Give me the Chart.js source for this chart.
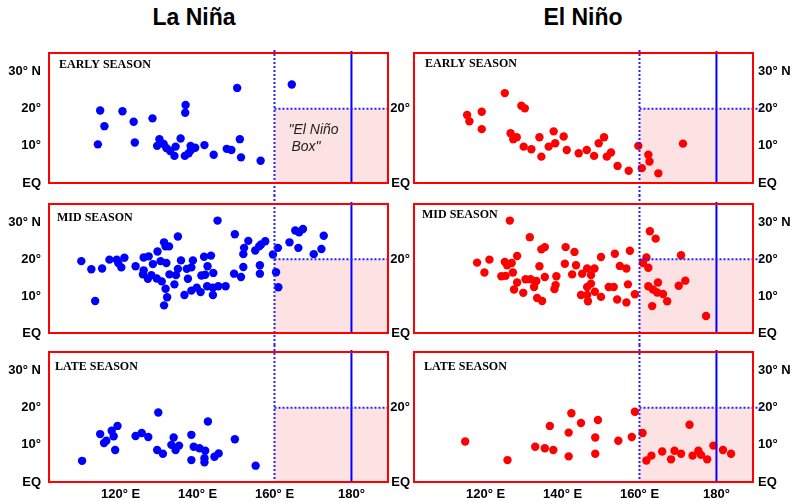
<!DOCTYPE html>
<html>
<head>
<meta charset="utf-8">
<script src="https://cdn.jsdelivr.net/npm/chart.js@4.4.1/dist/chart.umd.min.js"></script>
<style>
  html, body { margin: 0; padding: 0; background: #fff; }
  #fig { position: relative; width: 801px; height: 501px; overflow: hidden; background: #fff; }
  #fig canvas { position: absolute; }
  .title { position: absolute; top: 4px; transform: translateX(-50%); white-space: nowrap;
           font: bold 23px "Liberation Sans", Arial, sans-serif; color: #000; }
</style>
</head>
<body>
<div id="fig">
  <div class="title" style="left:194px">La Niña</div>
  <div class="title" style="left:583px">El Niño</div>
  <canvas id="ln0" width="400" height="155" style="left:0;top:40px"></canvas>
  <canvas id="ln1" width="400" height="150" style="left:0;top:195px"></canvas>
  <canvas id="ln2" width="400" height="156" style="left:0;top:345px"></canvas>
  <canvas id="en0" width="411" height="155" style="left:390px;top:40px"></canvas>
  <canvas id="en1" width="411" height="150" style="left:390px;top:195px"></canvas>
  <canvas id="en2" width="411" height="156" style="left:390px;top:345px"></canvas>
</div>
<script>
// Axis ticks and labels
const latTicks = [0, 10, 20, 30];
const latLabels = ['EQ', '10°', '20°', '30° N'];
const innerLatTicks = [0, 20];
const innerLatLabels = ['EQ', '20°'];
const lonTicks = [120, 140, 160, 180];
const lonLabels = ['120° E', '140° E', '160° E', '180°'];
const seasonLabels = ['EARLY SEASON', 'MID SEASON', 'LATE SEASON'];

// Map extent (degrees) and the "El Niño box" edges
const lonRange = [101.4, 189.5];
const latRange = [0, 35];
const ninoWest = 160;
const dateline = 180;
const ninoNorth = 20;

// Formation points [longitude °E, latitude °N]
const laNinaEarly = [
  [150.3,25.6],[164.5,26.5],[114.7,19.5],[120.5,19.3],[136.9,21.0],[136.8,18.9],[115.8,15.3],
  [123.4,16.5],[128.3,17.4],[114.1,10.4],[123.7,10.9],[130.1,11.8],[129.5,10.0],[131.2,10.5],
  [131.9,9.4],[132.9,8.6],[134.0,7.3],[134.3,9.8],[135.6,12.0],[136.7,7.3],[137.7,8.0],
  [138.2,10.0],[139.4,9.5],[138.3,8.9],[141.8,10.2],[144.2,7.6],[147.6,9.2],[148.8,8.9],
  [151.0,11.8],[151.3,6.9],[156.4,6.0]
];
const laNinaMid = [
  [109.8,19.5],[112.4,17.3],[115.2,17.5],[113.4,8.7],[117.1,19.9],[119.0,19.9],[119.4,19.0],
  [120.2,17.8],[121.0,20.4],[123.9,18.1],[126.0,20.5],[127.3,20.8],[126.0,17.0],[125.8,15.9],
  [127.1,14.7],[128.0,15.7],[128.4,18.7],[129.6,22.1],[129.4,14.8],[130.4,19.5],[130.7,14.0],
  [131.3,24.6],[131.7,23.5],[132.6,23.5],[131.9,19.0],[131.7,12.0],[132.1,9.7],[131.3,7.5],
  [132.7,15.9],[134.0,13.2],[134.4,15.7],[134.9,17.4],[134.9,26.2],[135.7,19.7],[136.6,10.3],
  [137.5,14.7],[137.2,17.4],[138.4,17.8],[138.8,19.7],[138.4,11.5],[139.8,12.3],[140.8,11.1],
  [141.0,15.6],[141.7,20.7],[142.0,15.8],[142.6,18.1],[143.5,21.0],[144.1,16.3],[142.5,12.7],
  [144.0,10.3],[144.0,12.3],[145.4,12.7],[147.3,12.7],[145.2,30.5],[149.5,16.1],[149.7,26.8],
  [151.3,15.2],[151.9,21.4],[152.1,23.1],[151.9,17.9],[153.2,25.0],[155.0,22.4],[156.0,23.5],
  [156.5,24.0],[157.6,24.9],[156.2,18.4],[156.2,16.1],[159.6,21.3],[160.9,23.1],[160.4,16.5],
  [161.0,12.4],[163.9,24.6],[165.4,27.8],[166.4,27.3],[167.4,28.2],[166.2,23.1],[170.2,21.4],
  [172.2,22.8],[172.8,26.4]
];
const laNinaLate = [
  [110.0,5.7],[114.7,12.9],[115.7,10.5],[116.3,11.1],[117.7,13.8],[118.2,12.3],[119.2,15.1],
  [118.6,8.6],[123.9,12.4],[125.5,13.2],[127.2,12.1],[129.8,18.7],[129.5,8.6],[131.0,7.6],
  [133.8,12.0],[133.2,10.0],[134.3,8.6],[135.2,9.8],[138.4,12.7],[138.4,5.9],[139.0,9.5],
  [140.5,9.1],[142.0,8.4],[141.8,6.4],[141.8,5.3],[142.7,16.3],[144.4,6.8],[145.5,7.7],
  [149.7,11.5],[155.1,4.4]
];
const elNinoEarly = [
  [115.2,18.3],[115.8,16.6],[119.0,19.2],[119.0,14.5],[125.0,24.2],[129.3,20.8],[130.2,20.1],
  [126.5,13.4],[127.2,11.8],[128.1,12.3],[129.9,9.8],[131.9,9.1],[134.0,12.3],[134.5,7.1],
  [136.4,9.8],[137.7,13.9],[138.1,10.7],[140.3,12.5],[141.1,8.9],[144.2,8.0],[146.3,8.9],
  [148.2,7.3],[149.4,10.7],[150.8,12.3],[151.5,7.1],[152.6,8.2],[154.3,4.6],[157.2,3.3],
  [159.7,10.0],[160.6,4.0],[162.3,7.6],[162.6,5.8],[164.9,2.6],[171.3,10.6]
];
const elNinoMid = [
  [126.3,30.5],[131.5,26.0],[134.5,22.7],[135.4,23.3],[140.8,23.3],[143.1,22.0],[117.8,19.1],
  [121.0,19.9],[119.7,16.4],[125.0,19.3],[125.6,18.4],[126.8,19.0],[128.2,20.9],[124.1,15.4],
  [125.2,15.5],[127.1,16.4],[128.2,13.7],[127.4,11.8],[129.8,10.9],[130.4,14.6],[131.7,14.6],
  [133.2,14.1],[132.6,12.5],[133.4,9.5],[134.7,8.7],[134.0,18.1],[135.4,15.2],[138.2,13.0],
  [137.9,11.9],[138.4,15.4],[140.6,18.8],[142.5,15.9],[143.5,18.4],[145.1,16.1],[146.4,17.5],
  [148.3,17.5],[147.4,15.7],[146.4,12.5],[147.4,13.4],[148.4,11.2],[144.8,10.3],[146.4,10.3],
  [146.6,8.6],[150.0,9.8],[150.0,20.6],[152.0,12.5],[153.3,12.5],[153.6,21.5],[154.9,18.2],
  [156.6,17.5],[157.5,22.3],[157.0,13.2],[154.2,9.1],[156.6,8.3],[158.8,10.5],[160.9,19.0],
  [161.8,20.5],[162.3,17.7],[162.7,27.6],[164.2,25.6],[162.3,12.7],[163.5,11.8],[164.6,11.0],
  [164.8,13.7],[166.1,10.6],[167.2,8.6],[163.3,7.3],[170.8,21.1],[170.2,12.8],[171.9,14.2],
  [177.3,4.6]
];
const elNinoLate = [
  [114.7,10.9],[125.7,5.9],[132.9,9.5],[135.4,9.1],[137.6,8.6],[136.7,15.1],[141.6,13.3],
  [141.6,6.9],[142.3,18.5],[144.8,15.9],[148.5,12.0],[148.5,7.6],[149.2,16.7],[154.5,11.1],
  [158.0,12.1],[158.8,18.9],[160.8,13.2],[161.8,5.8],[163.1,7.1],[165.9,8.2],[168.2,6.1],
  [169.1,8.4],[170.8,7.6],[173.0,15.4],[173.8,7.1],[175.3,8.4],[176.0,7.3],[177.6,6.1],
  [179.2,9.8],[181.7,8.6],[183.8,7.6]
];

const SANS = '"Liberation Sans", Arial, sans-serif';
const tickFont = { family: SANS, size: 13, weight: 'bold' };

// Box outline, El Niño box shading, 160°E / 20°N dotted guides, dateline and captions
const panelDecor = {
  id: 'panelDecor',
  beforeDatasetsDraw(chart, args, o) {
    const { ctx, chartArea: a, scales: { x, y } } = chart;
    const xW = x.getPixelForValue(ninoWest);
    const yN = y.getPixelForValue(ninoNorth);
    ctx.save();
    ctx.fillStyle = 'rgb(253,226,228)';
    ctx.fillRect(xW, yN, a.right - xW, a.bottom - yN);
    ctx.restore();
  },
  afterDatasetsDraw(chart, args, o) {
    const { ctx, chartArea: a, scales: { x, y } } = chart;
    const xW = x.getPixelForValue(ninoWest);
    const xD = x.getPixelForValue(dateline);
    const yN = y.getPixelForValue(ninoNorth);
    ctx.save();
    // dateline
    ctx.strokeStyle = '#0000ff';
    ctx.lineWidth = 2;
    ctx.beginPath();
    ctx.moveTo(xD, a.top - 2);
    ctx.lineTo(xD, a.bottom + 1);
    ctx.stroke();
    // dotted guides
    ctx.strokeStyle = '#2222ff';
    ctx.setLineDash([2, 2]);
    ctx.beginPath();
    const top = o.guideFromTop ? 0 : a.top - 3;
    const bottom = o.guideToBottom ? chart.height : a.bottom;
    ctx.moveTo(xW, top);
    ctx.lineTo(xW, bottom);
    ctx.moveTo(xW, yN);
    ctx.lineTo(a.right + o.guideExtend, yN);
    ctx.stroke();
    ctx.setLineDash([]);
    // frame
    ctx.strokeStyle = '#ff0000';
    ctx.lineWidth = 2;
    ctx.strokeRect(a.left, a.top, a.right - a.left, a.bottom - a.top);
    // season caption
    ctx.fillStyle = '#000';
    ctx.textBaseline = 'middle';
    ctx.textAlign = 'left';
    ctx.font = 'bold 12px "Liberation Serif", "Times New Roman", serif';
    ctx.fillText(o.label, a.left + o.dx, a.top + o.dy);
    if (o.note) {
      ctx.font = 'italic 14px ' + SANS;
      ctx.fillStyle = '#222';
      ctx.fillText('"El Niño', xW + 14, yN + 21);
      ctx.fillText('Box"', xW + 17, yN + 38);
    }
    ctx.restore();
  }
};

function fixedTicks(values, labels) {
  return {
    afterBuildTicks: s => { s.ticks = values.map(v => ({ value: v })); },
    callback: (v, i) => labels[i]
  };
}

function makePanel(id, column, row, points, color) {
  const isLeft = column === 0;
  const isBottom = row === 2;
  const yLeft = isLeft ? fixedTicks(latTicks, latLabels) : fixedTicks(innerLatTicks, innerLatLabels);
  const scales = {
    x: {
      type: 'linear', min: lonRange[0], max: lonRange[1], display: isBottom,
      grid: { display: false, drawTicks: false }, border: { display: false },
      afterBuildTicks: s => { s.ticks = lonTicks.map(v => ({ value: v })); },
      ticks: { callback: (v, i) => lonLabels[i], color: '#000', font: tickFont, padding: 5,
               autoSkip: false, maxRotation: 0 },
      afterFit: s => { s.height = isBottom ? 19 : 0; s.paddingLeft = 0; s.paddingRight = 0; }
    },
    y: {
      type: 'linear', position: 'left', min: latRange[0], max: latRange[1],
      grid: { display: false, drawTicks: false }, border: { display: false },
      afterBuildTicks: yLeft.afterBuildTicks,
      ticks: { callback: yLeft.callback, color: '#000', font: tickFont,
               padding: isLeft ? 8 : 4, autoSkip: false },
      afterFit: s => { s.width = isLeft ? 49 : 24; s.paddingTop = 0; s.paddingBottom = 0; }
    }
  };
  if (!isLeft) {
    const yRight = fixedTicks(latTicks, latLabels);
    scales.y2 = {
      type: 'linear', axis: 'y', position: 'right', min: latRange[0], max: latRange[1],
      grid: { display: false, drawTicks: false }, border: { display: false },
      afterBuildTicks: yRight.afterBuildTicks,
      ticks: { callback: yRight.callback, color: '#000', font: tickFont, padding: 5, autoSkip: false },
      afterFit: s => { s.width = 48; s.paddingTop = 0; s.paddingBottom = 0; }
    };
  }
  const padTop = [13, 9, 7][row];
  const padBottom = [12, 12, 0][row];
  const captionOffsets = isLeft ? [[10, 12], [8, 14], [6, 15]] : [[11, 11], [8, 11], [10, 15]];
  new Chart(document.getElementById(id), {
    type: 'scatter',
    data: {
      datasets: [{
        data: points.map(p => ({ x: p[0], y: p[1] })),
        backgroundColor: color,
        borderWidth: 0,
        pointRadius: 4.2,
        pointHoverRadius: 4.2
      }]
    },
    options: {
      responsive: false,
      animation: false,
      devicePixelRatio: 1,
      layout: { padding: { top: padTop, bottom: padBottom, left: 0, right: isLeft ? 12 : 0 } },
      scales,
      plugins: {
        legend: { display: false },
        tooltip: { enabled: false },
        panelDecor: {
          label: seasonLabels[row],
          dx: captionOffsets[row][0],
          dy: captionOffsets[row][1],
          note: isLeft && row === 0,
          guideFromTop: row > 0,
          guideToBottom: row < 2,
          guideExtend: isLeft ? 0 : 10
        }
      }
    },
    plugins: [panelDecor]
  });
}

const blue = '#0000ff';
const red = '#ff0000';
makePanel('ln0', 0, 0, laNinaEarly, blue);
makePanel('ln1', 0, 1, laNinaMid, blue);
makePanel('ln2', 0, 2, laNinaLate, blue);
makePanel('en0', 1, 0, elNinoEarly, red);
makePanel('en1', 1, 1, elNinoMid, red);
makePanel('en2', 1, 2, elNinoLate, red);
</script>
</body>
</html>
